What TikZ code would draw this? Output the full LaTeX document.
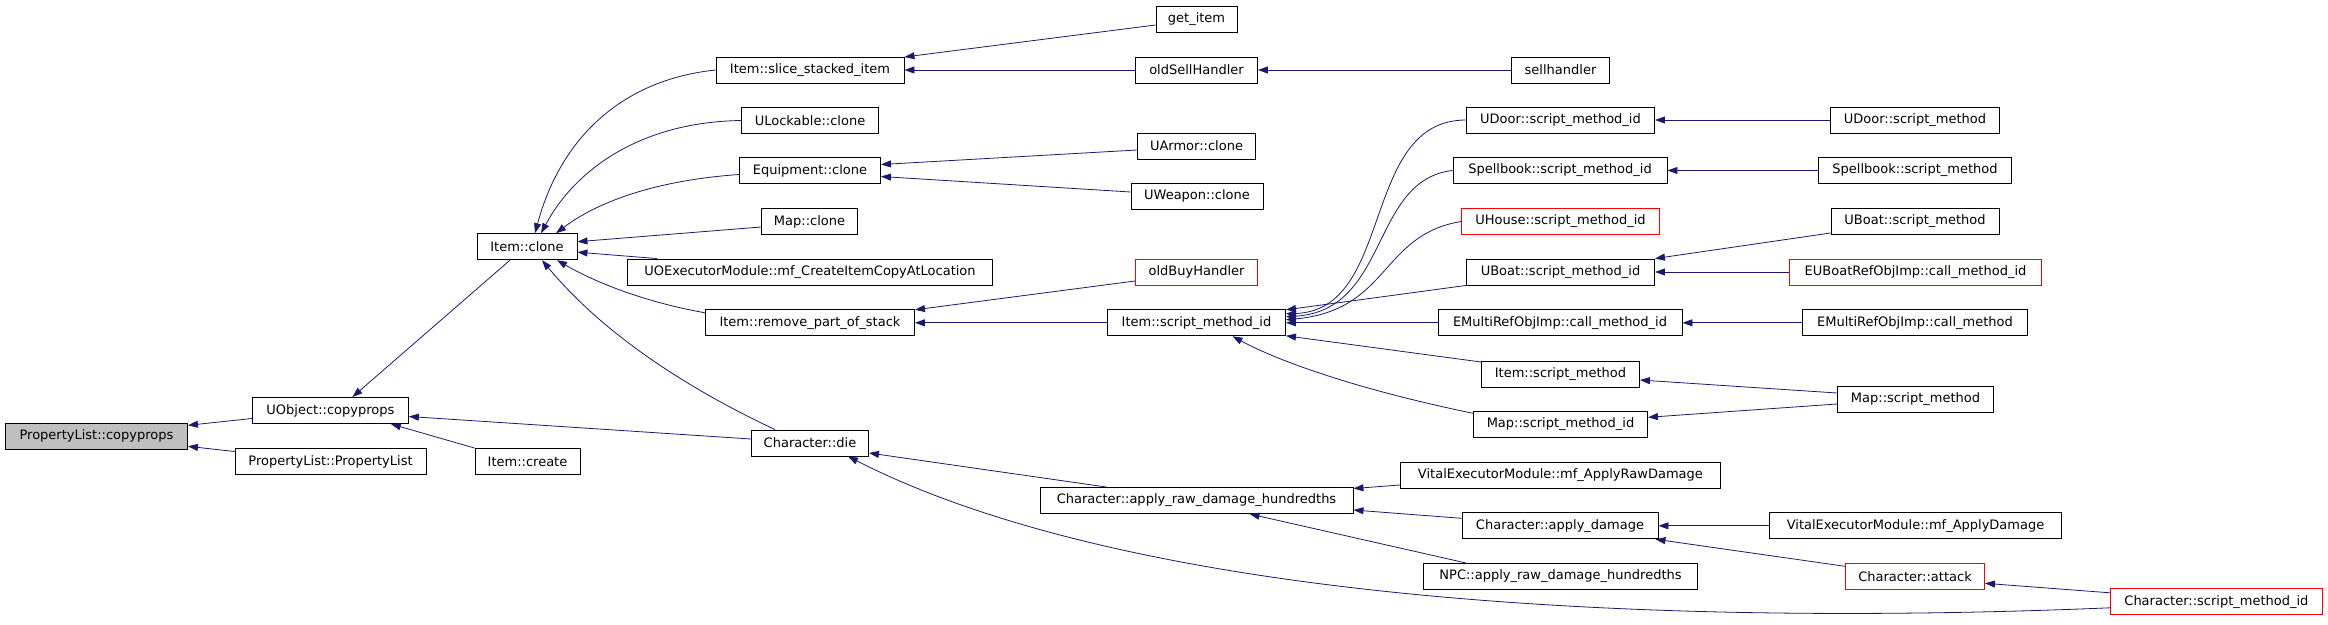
\documentclass[tikz,border=0pt]{standalone}
\usepackage{fontspec}
\setmainfont{DejaVu Sans}
\usetikzlibrary{arrows.meta}
\definecolor{edgeblue}{HTML}{191970}
\definecolor{rootgrey}{HTML}{BFBFBF}

\begin{document}
\begin{tikzpicture}[x=1pt, y=-1pt,
  fn/.style={draw=black, line width=0.9pt, minimum height=26pt, inner sep=0pt, font=\fontsize{13}{15}\selectfont},
  redfn/.style={fn, draw=red},
  >={Triangle[length=10pt,width=7pt]},
  edge/.style={->, draw=edgeblue, line width=0.8pt}]
  \useasboundingbox (0,0) rectangle (2328,624);
  \node[fn, fill=rootgrey, minimum width=182pt] (plcp) at (96.5,436.3) {PropertyList::copyprops};
  \node[fn, minimum width=156pt] (uocp) at (330.4,410.5) {UObject::copyprops};
  \node[fn, minimum width=191pt] (plpl) at (330.5,461.5) {PropertyList::PropertyList};
  \node[fn, minimum width=100pt] (iclone) at (527,246.7) {Item::clone};
  \node[fn, minimum width=105pt] (icreate) at (527.5,461.5) {Item::create};
  \node[fn, minimum width=188pt] (islice) at (810,70) {Item::slice\_stacked\_item};
  \node[fn, minimum width=137pt] (ulock) at (810,120.5) {ULockable::clone};
  \node[fn, minimum width=141pt] (equip) at (810,170.5) {Equipment::clone};
  \node[fn, minimum width=96pt] (mapclone) at (809.5,221.5) {Map::clone};
  \node[fn, minimum width=365pt] (uoexec) at (810,272) {UOExecutorModule::mf\_CreateItemCopyAtLocation};
  \node[fn, minimum width=209pt] (iremove) at (810,322.8) {Item::remove\_part\_of\_stack};
  \node[fn, minimum width=117pt] (chdie) at (810,443) {Character::die};
  \node[fn, minimum width=81pt] (getitem) at (1196.5,19) {get\_item};
  \node[fn, minimum width=122pt] (oldsell) at (1196.5,70) {oldSellHandler};
  \node[fn, minimum width=118pt] (uarmor) at (1196.5,146) {UArmor::clone};
  \node[fn, minimum width=132pt] (uweapon) at (1197,196) {UWeapon::clone};
  \node[redfn, minimum width=122pt] (oldbuy) at (1196.5,272) {oldBuyHandler};
  \node[fn, minimum width=178pt] (ismid) at (1196.5,322.8) {Item::script\_method\_id};
  \node[fn, minimum width=313pt] (chraw) at (1196.5,500.5) {Character::apply\_raw\_damage\_hundredths};
  \node[fn, minimum width=98pt] (sellh) at (1560.5,70) {sellhandler};
  \node[fn, minimum width=188pt] (udoorid) at (1560.5,120) {UDoor::script\_method\_id};
  \node[fn, minimum width=214pt] (spellid) at (1560,170.5) {Spellbook::script\_method\_id};
  \node[redfn, minimum width=198pt] (uhouseid) at (1560.5,221.5) {UHouse::script\_method\_id};
  \node[fn, minimum width=188pt] (uboatid) at (1560.5,272) {UBoat::script\_method\_id};
  \node[fn, minimum width=244pt] (emcallid) at (1560,322.8) {EMultiRefObjImp::call\_method\_id};
  \node[fn, minimum width=158pt] (iscript) at (1560.5,374) {Item::script\_method};
  \node[fn, minimum width=174pt] (mapsid) at (1560.5,424.3) {Map::script\_method\_id};
  \node[fn, minimum width=320pt] (vxraw) at (1560.4,475) {VitalExecutorModule::mf\_ApplyRawDamage};
  \node[fn, minimum width=196pt] (chapply) at (1560,525.8) {Character::apply\_damage};
  \node[fn, minimum width=274pt] (npcraw) at (1560.5,576.3) {NPC::apply\_raw\_damage\_hundredths};
  \node[fn, minimum width=169pt] (udoorsm) at (1915,120) {UDoor::script\_method};
  \node[fn, minimum width=193pt] (spellsm) at (1915,170.5) {Spellbook::script\_method};
  \node[fn, minimum width=168pt] (uboatsm) at (1915,221.5) {UBoat::script\_method};
  \node[redfn, minimum width=252pt] (euboat) at (1915.5,272) {EUBoatRefObjImp::call\_method\_id};
  \node[fn, minimum width=225pt] (emcall) at (1915,322.8) {EMultiRefObjImp::call\_method};
  \node[fn, minimum width=156pt] (mapsm) at (1915.5,399) {Map::script\_method};
  \node[fn, minimum width=292pt] (vxapply) at (1915.5,525.8) {VitalExecutorModule::mf\_ApplyDamage};
  \node[redfn, minimum width=139pt] (chattack) at (1915,576.3) {Character::attack};
  \node[redfn, minimum width=212pt] (chsmid) at (2216.4,601.8) {Character::script\_method\_id};

  \draw[edge] ([yshift=-8pt]uocp.west) -- ([yshift=11pt]plcp.east);
  \draw[edge] ([yshift=10pt]plpl.west) -- ([yshift=-10pt]plcp.east);
  \draw[edge] ([xshift=-17pt]iclone.south) -- ([xshift=22pt]uocp.north);
  \draw[edge] (icreate.north west) -- ([xshift=-18pt]uocp.south east);
  \draw[edge] ([yshift=4pt]chdie.west) -- ([yshift=-6pt]uocp.east);
  \draw[edge] (islice.west) .. controls (620,80) and (560,140) .. ([xshift=8pt]iclone.north);
  \draw[edge] (ulock.west) .. controls (640,122) and (575,170) .. ([xshift=14pt]iclone.north);
  \draw[edge] ([yshift=-4pt]equip.west) .. controls (660,180) and (600,200) .. ([xshift=29pt]iclone.north);
  \draw[edge] ([yshift=-5.5pt]mapclone.west) -- ([yshift=5pt]iclone.east);
  \draw[edge] ([xshift=30pt]uoexec.north west) -- ([yshift=-5.5pt]iclone.east);
  \draw[edge] ([yshift=10pt]iremove.west) .. controls (650,303) and (600,285) .. ([xshift=30pt]iclone.south);
  \draw[edge] ([xshift=-35pt]chdie.north) .. controls (680,385) and (600,330) .. ([xshift=15pt]iclone.south);
  \draw[edge] ([yshift=-6pt]getitem.west) -- ([yshift=13pt]islice.east);
  \draw[edge] (oldsell.west) -- (islice.east);
  \draw[edge] (sellh.west) -- (oldsell.east);
  \draw[edge] ([yshift=-4pt]uarmor.west) -- ([yshift=6pt]equip.east);
  \draw[edge] ([yshift=4pt]uweapon.west) -- ([yshift=-6pt]equip.east);
  \draw[edge] ([yshift=-9pt]oldbuy.west) -- ([yshift=13pt]iremove.east);
  \draw[edge] (ismid.west) -- (iremove.east);
  \draw[edge] (uboatid.south west) -- ([yshift=13pt]ismid.east);
  \draw[edge] (udoorid.west) .. controls (1360,120) and (1395,310) .. ([yshift=9pt]ismid.east);
  \draw[edge] (spellid.west) .. controls (1370,180) and (1390,310) .. ([yshift=6pt]ismid.east);
  \draw[edge] (uhouseid.west) .. controls (1380,235) and (1390,310) .. ([yshift=3pt]ismid.east);
  \draw[edge] (emcallid.west) -- (ismid.east);
  \draw[edge] ([yshift=12pt]iscript.west) -- ([yshift=-13pt]ismid.east);
  \draw[edge] ([yshift=11pt]mapsid.west) .. controls (1360,390) and (1280,362) .. ([xshift=36pt]ismid.south);
  \draw[edge] (udoorsm.west) -- (udoorid.east);
  \draw[edge] (spellsm.west) -- (spellid.east);
  \draw[edge] ([yshift=-11.5pt]uboatsm.west) -- (uboatid.north east);
  \draw[edge] (euboat.west) -- (uboatid.east);
  \draw[edge] (emcall.west) -- (emcallid.east);
  \draw[edge] ([yshift=6pt]mapsm.west) -- ([yshift=-6pt]iscript.east);
  \draw[edge] ([yshift=-5pt]mapsm.west) -- ([yshift=7pt]mapsid.east);
  \draw[edge] ([xshift=-90pt]chraw.north) -- ([yshift=-10pt]chdie.east);
  \draw[edge] ([yshift=-6pt]chsmid.west) .. controls (1700,625) and (1150,610) .. ([xshift=38pt]chdie.south);
  \draw[edge] ([yshift=-10pt]vxraw.west) -- ([yshift=12pt]chraw.east);
  \draw[edge] ([yshift=7.5pt]chapply.west) -- ([yshift=-9.5pt]chraw.east);
  \draw[edge] ([xshift=-95pt]npcraw.north) -- ([xshift=53pt]chraw.south);
  \draw[edge] (vxapply.west) -- (chapply.east);
  \draw[edge] ([yshift=10pt]chattack.west) -- ([xshift=-3pt]chapply.south east);
  \draw[edge] ([yshift=9pt]chsmid.west) -- ([yshift=-7pt]chattack.east);
\end{tikzpicture}
\end{document}
